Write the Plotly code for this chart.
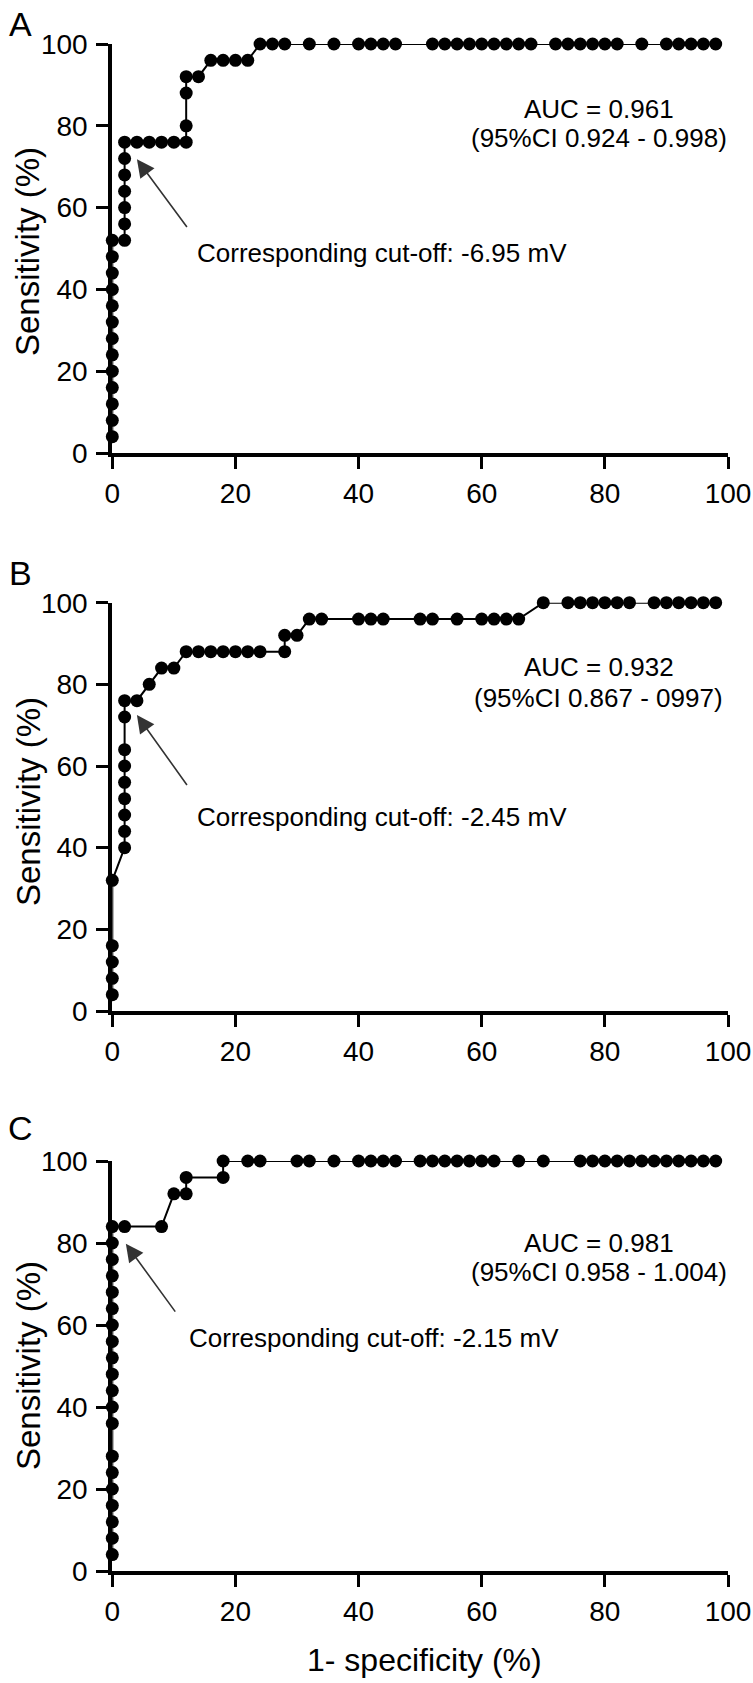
import plotly.graph_objects as go

# ---------------- data ----------------
# Panel A
a_fpr = [0]*13 + [2]*7 + [4, 6, 8, 10] + [12]*4 + [14] + [16, 18, 20, 22] + \
        [24, 26, 28, 32, 36, 40, 42, 44, 46, 52, 54, 56, 58, 60, 62, 64, 66, 68,
         72, 74, 76, 78, 80, 82, 86, 90, 92, 94, 96, 98]
a_sens = [4, 8, 12, 16, 20, 24, 28, 32, 36, 40, 44, 48, 52] + \
         [52, 56, 60, 64, 68, 72, 76] + [76]*4 + [76, 80, 88, 92] + [92] + [96]*4 + [100]*30

# Panel B
b_fpr = [0]*5 + [2]*9 + [4, 6, 8, 10] + [12, 14, 16, 18, 20, 22, 24] + [28, 28, 30] + \
        [32, 34, 40, 42, 44, 50, 52, 56, 60, 62, 64, 66] + \
        [70, 74, 76, 78, 80, 82, 84, 88, 90, 92, 94, 96, 98]
b_sens = [4, 8, 12, 16, 32] + [40, 44, 48, 52, 56, 60, 64, 72, 76] + [76, 80, 84, 84] + \
         [88]*7 + [88, 92, 92] + [96]*12 + [100]*13

# Panel C
c_fpr = [0]*20 + [2, 8, 10, 12, 12, 18, 18] + \
        [22, 24, 30, 32, 36, 40, 42, 44, 46, 50, 52, 54, 56, 58, 60, 62, 66, 70,
         76, 78, 80, 82, 84, 86, 88, 90, 92, 94, 96, 98]
c_sens = [4, 8, 12, 16, 20, 24, 28, 36, 40, 44, 48, 52, 56, 60, 64, 68, 72, 76, 80, 84] + \
         [84, 84, 92, 92, 96, 96, 100] + [100]*30

auc_text = ["AUC = 0.961<br>(95%CI 0.924 - 0.998)",
            "AUC = 0.932<br>(95%CI 0.867 - 0997)",
            "AUC = 0.981<br>(95%CI 0.958 - 1.004)"]
cutoff_text = ["Corresponding cut-off: -6.95 mV",
               "Corresponding cut-off: -2.45 mV",
               "Corresponding cut-off: -2.15 mV"]
panel_letters = ["A", "B", "C"]
x_ticks = [0, 20, 40, 60, 80, 100]
y_ticks = [0, 20, 40, 60, 80, 100]
x_title = "1- specificity (%)"
y_title = "Sensitivity (%)"

# ---------------- layout helpers ----------------
W, H = 753, 1683
FONT = "Liberation Sans, Arial, Helvetica, sans-serif"


def px_x(page_x):
    return page_x / W


def px_y(page_y):
    return 1 - page_y / H


px_left, px_right = 112.3, 728.0
panels_px = [(44.0, 453.0), (602.7, 1011.0), (1161.0, 1571.0)]  # (top, bottom) px

fig = go.Figure()

series = [(a_fpr, a_sens), (b_fpr, b_sens), (c_fpr, c_sens)]
for i, (xs, ys) in enumerate(series):
    fig.add_trace(go.Scatter(
        x=xs, y=ys, mode="lines+markers",
        line=dict(color="black", width=2),
        marker=dict(color="black", size=13),
        cliponaxis=False, showlegend=False,
        xaxis="x" if i == 0 else f"x{i+1}",
        yaxis="y" if i == 0 else f"y{i+1}",
    ))

axis_common = dict(
    showgrid=False, zeroline=False, showline=True, linecolor="black",
    linewidth=4, ticks="outside", ticklen=12, tickwidth=2.5, tickcolor="black",
    tickfont=dict(family=FONT, size=28, color="black"), automargin=False,
)

layout = dict(
    width=W, height=H, paper_bgcolor="white", plot_bgcolor="white",
    margin=dict(l=0, r=0, t=0, b=0, autoexpand=False),
    showlegend=False,
)

for i, (top, bot) in enumerate(panels_px):
    suffix = "" if i == 0 else str(i + 1)
    layout[f"xaxis{suffix}"] = dict(
        axis_common, range=[0, 100], tickvals=x_ticks,
        domain=[px_x(px_left), px_x(px_right)],
        anchor=f"y{suffix}",
    )
    layout[f"yaxis{suffix}"] = dict(
        axis_common, range=[0, 100], tickvals=y_ticks,
        domain=[px_y(bot), px_y(top)],
        anchor=f"x{suffix}", ticklabelstandoff=3,
    )

fig.update_layout(**layout)

# annotations
auc_pos = [(79, 84.0, 77.0), (79, 84.3, 76.7), (79, 80.0, 73.0)]
cut_pos = [(13.4, 49.0), (13.4, 47.6), (12.2, 56.8)]
arrow_tip = [(4.0, 71.8), (4.0, 72.5), (2.2, 79.8)]
arrow_tail = [(12.3, 54.9), (12.3, 55.0), (10.4, 62.9)]
letter_y_px = [24, 573, 1128]
ytitle_y_px = [252, 802, 1366]

for i in range(3):
    suffix = "" if i == 0 else str(i + 1)
    xr, yr = f"x{suffix}", f"y{suffix}"
    lines = auc_text[i].split("<br>")
    fig.add_annotation(x=auc_pos[i][0], y=auc_pos[i][1], xref=xr, yref=yr,
                       text=lines[0], showarrow=False, xanchor="center", yanchor="middle",
                       font=dict(family=FONT, size=26, color="black"))
    fig.add_annotation(x=auc_pos[i][0], y=auc_pos[i][2], xref=xr, yref=yr,
                       text=lines[1], showarrow=False, xanchor="center", yanchor="middle",
                       font=dict(family=FONT, size=26, color="black"))
    fig.add_annotation(x=cut_pos[i][0], y=cut_pos[i][1], xref=xr, yref=yr,
                       text=cutoff_text[i], showarrow=False, xanchor="left", yanchor="middle",
                       font=dict(family=FONT, size=26, color="black"))
    fig.add_annotation(x=arrow_tip[i][0], y=arrow_tip[i][1], xref=xr, yref=yr,
                       ax=arrow_tail[i][0], ay=arrow_tail[i][1], axref=xr, ayref=yr,
                       text="", showarrow=True, arrowhead=2, arrowsize=2.2,
                       arrowwidth=1.6, arrowcolor="#333333")
    fig.add_annotation(x=px_x(20), y=px_y(letter_y_px[i]), xref="paper", yref="paper",
                       text=panel_letters[i], showarrow=False, xanchor="center",
                       yanchor="middle", font=dict(family=FONT, size=34, color="black"))
    fig.add_annotation(x=px_x(28), y=px_y(ytitle_y_px[i]), xref="paper", yref="paper",
                       text=y_title, showarrow=False, textangle=-90, xanchor="center",
                       yanchor="middle", font=dict(family=FONT, size=33, color="black"))

fig.add_annotation(x=px_x(424), y=px_y(1660), xref="paper", yref="paper",
                   text=x_title, showarrow=False, xanchor="center", yanchor="middle",
                   font=dict(family=FONT, size=32, color="black"))

fig.write_html("out.html",
               config={"displayModeBar": False},
               post_script="document.body.style.margin='0px';document.body.style.overflow='hidden';")
